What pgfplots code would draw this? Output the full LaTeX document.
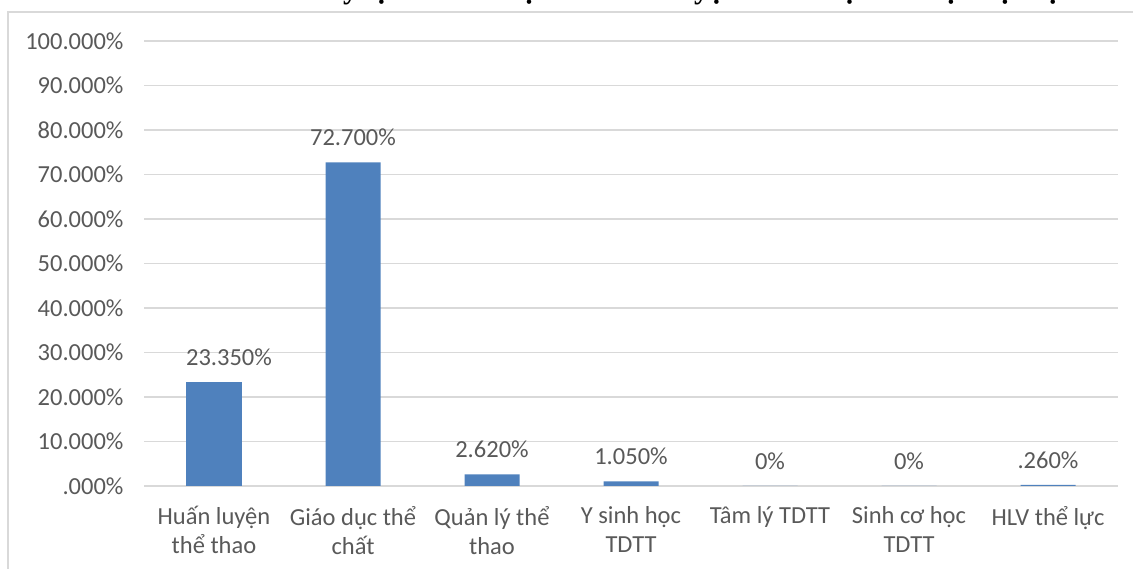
\documentclass[border=0pt]{standalone}
\usepackage{fontspec}
\setmainfont{Carlito}
\newfontfamily\titlefont{Liberation Serif}
\usepackage{pgfplots}
\pgfplotsset{compat=1.18}
\definecolor{barblue}{HTML}{4F81BD}
\definecolor{txt}{HTML}{595959}
\definecolor{gridc}{HTML}{D9D9D9}
\begin{document}
\begin{tikzpicture}[x=1pt,y=1pt]
\useasboundingbox (0,0) rectangle (1133,569);
\draw[gridc, line width=1.2pt] (8,-10) -- (8,557) -- (1150,557);
\node[anchor=base west, font=\titlefont\bfseries\fontsize{30}{36}\selectfont, inner sep=0] at (228,570.5) {Biểu đồ tỷ lệ \% trình độ của huấn luyện viên được đào tạo đại học};
\begin{axis}[
 at={(144.5pt,83pt)}, anchor=south west,
 scale only axis, width=973pt, height=445pt,
 xmin=-0.5, xmax=6.5, ymin=0, ymax=100,
 axis line style={draw=none},
 ybar, bar width=55pt, bar shift=0pt,
 xtick={0,...,6},
 xticklabels={{Huấn luyện\\thể thao},{Giáo dục thể\\chất},{Quản lý thể\\thao},{Y sinh học\\TDTT},{Tâm lý TDTT},{Sinh cơ học\\TDTT},{HLV thể lực}},
 ytick={0,10,...,100},
 yticklabels={.000\%,10.000\%,20.000\%,30.000\%,40.000\%,50.000\%,60.000\%,70.000\%,80.000\%,90.000\%,100.000\%},
 major tick length=0,
 ymajorgrids, grid style={gridc, line width=1.2pt},
 tick label style={text=txt, font=\fontsize{24.5}{29}\selectfont},
 xticklabel style={align=center, anchor=north, yshift=-17pt},
 yticklabel style={anchor=east, xshift=-17.5pt},
 nodes near coords, point meta=explicit symbolic,
 every node near coord/.append style={text=txt, font=\fontsize{24.5}{29}\selectfont, yshift=13pt},
]
\addplot[fill=barblue, draw=none, bar shift=0pt,
  every node near coord/.append style={xshift=15pt}] coordinates {
 (0,23.35) [23.350\%]
};
\addplot[fill=barblue, draw=none, bar shift=0pt] coordinates {
 (1,72.7) [72.700\%]
 (2,2.62) [2.620\%]
 (3,1.05) [1.050\%]
 (4,0) [0\%]
 (5,0) [0\%]
 (6,0.26) [.260\%]
};
\end{axis}
\end{tikzpicture}
\end{document}
